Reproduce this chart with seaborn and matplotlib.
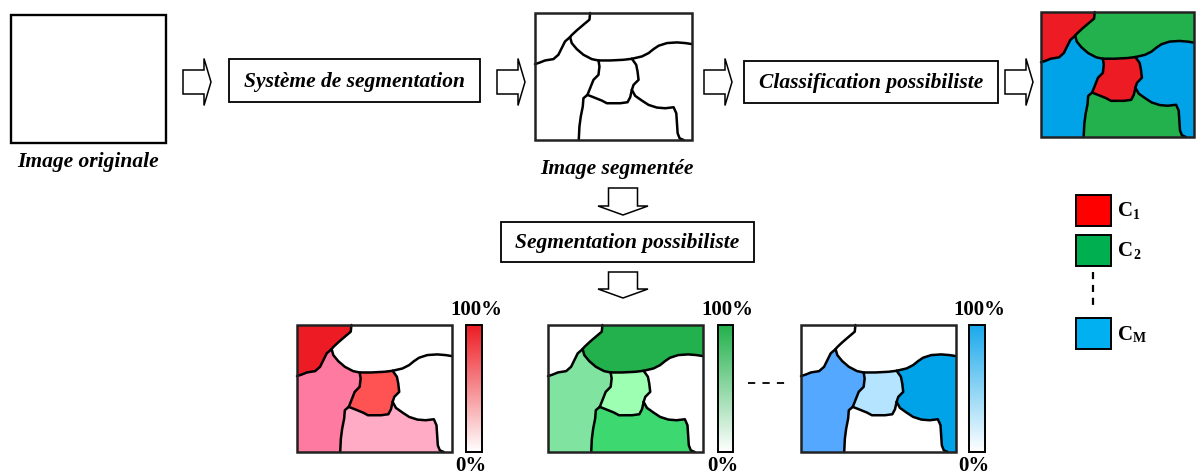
import numpy as np
import matplotlib
matplotlib.use("Agg")
import matplotlib.pyplot as plt
import seaborn as sns
from matplotlib.patches import Polygon, Rectangle
from matplotlib.colors import LinearSegmentedColormap

sns.set_theme(style="white")
plt.rcParams['font.family'] = ['Liberation Serif', 'DejaVu Serif']
plt.rcParams['text.color'] = 'black'

# ---------------- data ----------------
step_labels = ["Système de segmentation", "Classification possibiliste", "Segmentation possibiliste"]
image_labels = ["Image originale", "Image segmentée"]
class_names = ["1", "2", "M"]
class_colors = ["#FF0000", "#00B050", "#00B0F0"]
bar_tops = ["#ED1C24", "#22B14C", "#1AA9EC"]
scale_labels = ["100%", "0%"]

# region colours (R1 top-left, R2 top, R3 left, R4 centre, R5 right, R6 bottom)
classified = ["#ED1C24", "#22B14C", "#00A2E8", "#ED1C24", "#00A2E8", "#22B14C"]
member_red = ["#ED1C24", "#FFFFFF", "#FF7AA0", "#FF5252", "#FFFFFF", "#FFABC6"]
member_green = ["#FFFFFF", "#22B14C", "#80E3A0", "#9CFFB2", "#FFFFFF", "#3ED870"]
member_blue = ["#FFFFFF", "#FFFFFF", "#55A8FF", "#B4E4FF", "#00A2E8", "#FFFFFF"]

# boundary polylines in a 470 x 380 frame (offset 15, 10)
A1 = [(180, 10), (178, 30), (160, 45), (140, 62), (125, 76), (120, 82)]
A2 = [(120, 82), (105, 95), (95, 115), (85, 135), (70, 148), (45, 152), (30, 158), (15, 163)]
B = [(120, 82), (125, 100), (140, 118), (160, 135), (185, 148), (205, 152)]
C = [(205, 152), (240, 152), (280, 150), (305, 147)]
D = [(305, 147), (335, 140), (355, 130), (370, 118), (385, 108), (410, 100), (440, 98), (465, 100), (485, 103)]
E = [(205, 152), (208, 170), (205, 195), (190, 210), (180, 235), (172, 255)]
F = [(305, 147), (318, 165), (322, 185), (325, 210), (310, 225), (305, 240)]
CB = [(172, 255), (190, 262), (215, 272), (230, 280), (270, 280), (292, 277), (300, 262), (305, 240)]
H = [(305, 240), (315, 258), (335, 272), (355, 285), (380, 293), (405, 295), (430, 292), (438, 310),
     (440, 340), (442, 370), (448, 385), (460, 390)]
G = [(172, 255), (160, 265), (158, 290), (152, 320), (148, 350), (146, 390)]

def rev(p):
    return p[::-1]

regions = [
    [(15, 10)] + A1 + A2[1:],
    [(180, 10), (485, 10)] + D[::-1] + rev(C)[1:] + rev(B)[1:] + rev(A1)[1:],
    A2[::-1] + B[1:] + E[1:] + G[1:] + [(15, 390)],
    C + F[1:] + rev(CB)[1:] + rev(E)[1:],
    D + [(485, 390)] + rev(H) + rev(F)[1:],
    CB + H[1:] + rev(G),
]
boundaries = [A1, A2, B, C, D, E, F, CB, H, G]

# ---------------- figure ----------------
fig = plt.figure(figsize=(11.96, 4.75), dpi=100)
ax = fig.add_axes([0, 0, 1, 1])
ax.set_xlim(0, 1196)
ax.set_ylim(475, 0)
ax.axis('off')

LBL = dict(fontsize=15.5, fontweight='bold', fontstyle='italic', color='black')

def tf(pts, x0, y0, w, h):
    return [(x0 + (px - 15) / 470 * w, y0 + (py - 10) / 380 * h) for px, py in pts]

def draw_map(x0, y0, w, h, colors=None):
    if colors is not None:
        for reg, col in zip(regions, colors):
            ax.add_patch(Polygon(tf(reg, x0, y0, w, h), closed=True, facecolor=col,
                                 edgecolor='none', zorder=2))
    for b in boundaries:
        pts = np.array(tf(b, x0, y0, w, h))
        ax.plot(pts[:, 0], pts[:, 1], color='black', lw=1.8, zorder=3,
                solid_joinstyle='round', solid_capstyle='round')
    ax.add_patch(Rectangle((x0, y0), w, h, fill=False, edgecolor='#222222', lw=1.8, zorder=4))

def right_arrow(x0, xt, cy, bh=24, hh=47, hl=7):
    xh = xt - hl
    pts = [(x0, cy - bh / 2), (xh, cy - bh / 2), (xh, cy - hh / 2), (xt, cy),
           (xh, cy + hh / 2), (xh, cy + bh / 2), (x0, cy + bh / 2)]
    ax.add_patch(Polygon(pts, closed=True, facecolor='white', edgecolor='black', lw=1.1, zorder=3))

def down_arrow(cx, y0, yt, bw=29, hw=50, hl=9):
    yh = yt - hl
    pts = [(cx - bw / 2, y0), (cx - bw / 2, yh), (cx - hw / 2, yh), (cx, yt),
           (cx + hw / 2, yh), (cx + bw / 2, yh), (cx + bw / 2, y0)]
    ax.add_patch(Polygon(pts, closed=True, facecolor='white', edgecolor='black', lw=1.1, zorder=3))

def text_box(x0, y0, x1, y1, label):
    ax.add_patch(Rectangle((x0, y0), x1 - x0, y1 - y0, fill=False, edgecolor='black', lw=1.3, zorder=3))
    ax.text((x0 + x1) / 2, (y0 + y1) / 2 + 1, label, ha='center', va='center', zorder=4, **LBL)

def colorbar(x0, x1, y0, y1, top):
    cmap = LinearSegmentedColormap.from_list('c', ['#FFFFFF', top])
    grad = np.linspace(0, 1, 256).reshape(-1, 1)
    ax.imshow(grad, cmap=cmap, extent=(x0, x1, y1, y0), origin='lower', aspect='auto', zorder=2)
    ax.add_patch(Rectangle((x0, y0), x1 - x0, y1 - y0, fill=False, edgecolor='black', lw=1.4, zorder=4))

# top row
ax.add_patch(Rectangle((11, 15), 155, 128, fill=False, edgecolor='black', lw=1.7))
ax.text(88, 162, image_labels[0], ha='center', va='center', **LBL)
right_arrow(183, 211, 82)
text_box(229, 59, 480, 102, step_labels[0])
right_arrow(497, 525, 82)
draw_map(535, 13, 157, 127)
ax.text(617, 169, image_labels[1], ha='center', va='center', **LBL)
right_arrow(704, 732, 82)
text_box(744, 61, 998, 103, step_labels[1])
right_arrow(1005, 1033, 82)
draw_map(1041, 12, 153, 125, classified)

# middle
down_arrow(623, 188, 215)
text_box(501, 222, 754, 262, step_labels[2])
down_arrow(623, 272, 298)

# bottom maps
maps = [(297, member_red, 466, 482, bar_tops[0]),
        (548, member_green, 718, 733, bar_tops[1]),
        (801, member_blue, 969, 985, bar_tops[2])]
for x0, cols, bx0, bx1, top in maps:
    draw_map(x0, 325, 155, 127, cols)
    colorbar(bx0, bx1, 325, 452, top)
    cx = (bx0 + bx1) / 2
    ax.text(cx + 2, 310, scale_labels[0], ha='center', va='center', fontsize=15,
            fontweight='bold', color='black')
    ax.text(cx - 3, 466, scale_labels[1], ha='center', va='center', fontsize=15,
            fontweight='bold', color='black')

ax.plot([748, 785], [383, 383], color='black', lw=1.3, linestyle=(0, (4, 4)))

# legend
leg_y = [(195, 226), (235, 266), (318, 349)]
for (y0, y1), col, name in zip(leg_y, class_colors, class_names):
    ax.add_patch(Rectangle((1076, y0), 35, y1 - y0, facecolor=col, edgecolor='black', lw=1.4))
    ax.text(1118, (y0 + y1) / 2 + 1, "C", ha='left', va='center', fontsize=15,
            fontweight='bold', color='black')
    ax.text(1133, (y0 + y1) / 2 + 5, name, ha='left', va='center', fontsize=10,
            fontweight='bold', color='black')
ax.plot([1093, 1093], [272, 308], color='black', lw=1.6, linestyle=(0, (3.2, 2.6)))

ax.set_xlim(0, 1196)
ax.set_ylim(475, 0)
fig.savefig("out.png", dpi=100)
